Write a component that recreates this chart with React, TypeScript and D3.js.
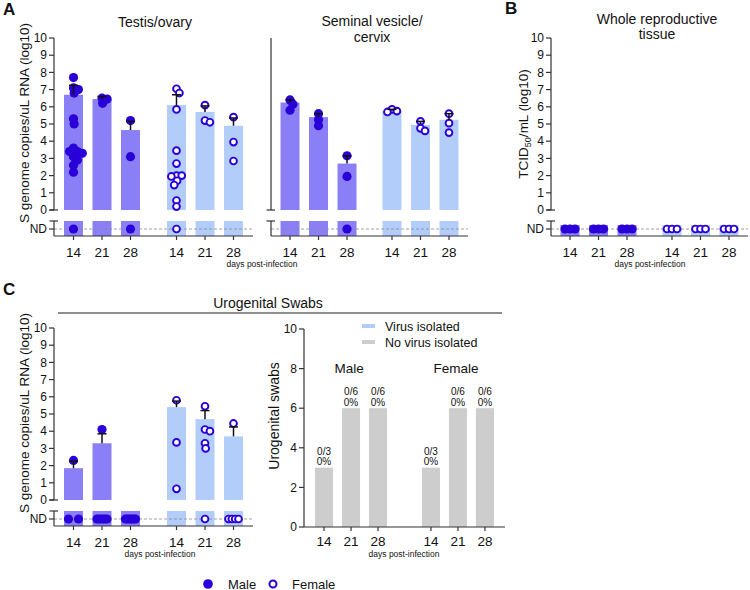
import * as d3 from "d3";

const FONT = "Arial, 'Liberation Sans', Helvetica, sans-serif";
const MALE_BAR = "#8b7ff8";
const FEMALE_BAR = "#b3cdfb";
const DOT = "#2a00d8";
const GREY_BAR = "#cdcdcd";
const AXIS = "#333";

const DAYS = ["14", "21", "28"];
const SEXES = ["Male", "Female"];

// group order everywhere: Male 14, 21, 28, Female 14, 21, 28
// A - Testis/ovary, log10 S genome copies/uL RNA
const testisMean = [6.7, 6.45, 4.65, 6.1, 5.7, 4.9];
const testisErr = [7.25, 6.6, 5.15, 6.7, 6.05, 5.35];
const testisPts = [
  [7.7, 7.1, 7.0, 6.8, 5.3, 5.0, 3.6, 3.4, 3.4, 3.3, 3.1, 2.9, 2.6, 2.2],
  [6.5, 6.45, 6.2],
  [5.2, 3.1],
  [7.05, 6.8, 5.85, 3.45, 2.7, 2.0, 2.0, 1.95, 1.7, 1.45, 0.55, 0.2],
  [6.1, 5.2, 5.1],
  [5.4, 3.95, 2.85],
];
const testisND = [1, 0, 1, 1, 0, 0];

// A - Seminal vesicle/cervix
const seminalMean = [6.25, 5.4, 2.7, 5.75, 4.95, 5.25];
const seminalErr = [6.4, 5.6, 3.15, 5.85, 5.15, 5.6];
const seminalPts = [
  [6.4, 6.15, 5.8],
  [5.6, 5.25, 4.9],
  [3.15, 1.95],
  [5.85, 5.75, 5.7],
  [5.15, 4.75, 4.6],
  [5.6, 5.05, 4.5],
];
const seminalND = [0, 0, 1, 0, 0, 0];

// B - Whole reproductive tissue, TCID50/mL (all not detected)
const tissueMean = [null, null, null, null, null, null];
const tissueErr = [null, null, null, null, null, null];
const tissuePts = [[], [], [], [], [], []];
const tissueND = [3, 3, 3, 3, 3, 3];

// C - Urogenital swabs RNA
const swabMean = [1.85, 3.3, null, 5.4, 4.7, 3.7];
const swabErr = [2.25, 3.85, null, 5.75, 5.2, 4.25];
const swabPts = [[2.3], [4.1], [], [5.8, 3.35, 0.65], [5.45, 4.1, 4.0, 3.3, 3.0], [4.45]];
const swabND = [2, 5, 6, 0, 1, 4];

// C - virus isolation from swabs
const swabTotal = [3, 6, 6, 3, 6, 6];
const swabIsolated = [0, 0, 0, 0, 0, 0];

type Group = {
  sex: string;
  day: string;
  mean: number | null;
  err: number | null;
  pts: number[];
  nd: number;
};

function makeGroups(mean: (number | null)[], err: (number | null)[], pts: number[][], nd: number[]): Group[] {
  return SEXES.flatMap((sex, si) =>
    DAYS.map((day, di) => {
      const i = si * 3 + di;
      return { sex, day, mean: mean[i], err: err[i], pts: pts[i], nd: nd[i] };
    })
  );
}

// simple beeswarm: offsets so dots don't sit on top of each other
function swarm(ys: number[], minDist: number): number[] {
  const order = ys.map((_, i) => i).sort((a, b) => ys[a] - ys[b]);
  const placed: { x: number; y: number }[] = [];
  const out = new Array(ys.length).fill(0);
  for (const i of order) {
    const y = ys[i];
    const cands = [0];
    const blocks: [number, number][] = [];
    placed.forEach((p) => {
      const dy = Math.abs(p.y - y);
      if (dy < minDist) {
        const dx = Math.sqrt(minDist * minDist - dy * dy);
        blocks.push([p.x - dx, p.x + dx]);
        cands.push(p.x - dx, p.x + dx);
      }
    });
    const ok = cands
      .filter((c) => blocks.every(([a, b]) => c <= a + 1e-6 || c >= b - 1e-6))
      .sort((a, b) => Math.abs(a) - Math.abs(b) || b - a);
    out[i] = ok[0];
    placed.push({ x: ok[0], y });
  }
  return out;
}

function ndOffsets(n: number): number[] {
  if (n <= 1) return n === 1 ? [0] : [];
  const step = Math.min(10.5, 10 / (n - 1));
  return d3.range(n).map((i) => (i - (n - 1) / 2) * step);
}

type PanelProps = {
  x0: number;
  w: number;
  y: d3.ScaleLinear<number, number>;
  ndTop: number;
  ndY: number;
  base: number;
  groups: Group[];
  labels: boolean;
  ndBarTop?: number;
};

const DotBarPanel = ({ x0, w, y, ndTop, ndY, base, groups, labels, ndBarTop }: PanelProps) => {
  const xSex = d3.scalePoint().domain(SEXES).range([x0, x0 + w]).padding(0.466);
  const xDay = d3.scalePoint().domain(DAYS).range([-28.5, 28.5]);
  const bw = 19;
  const [y0, y10] = y.range();
  const cx = (g: Group) => (xSex(g.sex) as number) + (xDay(g.day) as number);

  return (
    <g>
      {/* bars */}
      {groups.map((g, i) => (
        <g key={"b" + i} fill={g.sex === "Male" ? MALE_BAR : FEMALE_BAR}>
          {g.mean !== null && (
            <rect x={cx(g) - bw / 2} y={y(g.mean)} width={bw} height={y0 - y(g.mean)} />
          )}
          <rect x={cx(g) - bw / 2} y={ndBarTop ?? ndTop} width={bw} height={base - (ndBarTop ?? ndTop)} />
        </g>
      ))}
      {/* ND reference */}
      <line x1={x0} x2={x0 + w} y1={ndY} y2={ndY} stroke="#8a8a8a" strokeWidth={0.8} strokeDasharray="3,2" />
      {/* axes */}
      <g stroke={AXIS} strokeWidth={1.2} fill="none">
        <line x1={x0} x2={x0} y1={y10} y2={y0} />
        <line x1={x0 - 4.5} x2={x0 + 4} y1={y0} y2={y0} />
        <line x1={x0} x2={x0} y1={ndTop} y2={base} />
        <line x1={x0 - 4.5} x2={x0 + 4} y1={ndTop} y2={ndTop} />
        <line x1={x0} x2={x0 + w} y1={base} y2={base} />
        {labels &&
          y.ticks(10).map((t) => <line key={t} x1={x0 - 5} x2={x0} y1={y(t)} y2={y(t)} />)}
        {labels && <line x1={x0 - 5} x2={x0} y1={ndY} y2={ndY} />}
        {groups.map((g, i) => (
          <line key={i} x1={cx(g)} x2={cx(g)} y1={base} y2={base + 4} />
        ))}
      </g>
      {labels && (
        <g fontFamily={FONT} fontSize={12} fill="#111" textAnchor="end">
          {y.ticks(10).map((t) => (
            <text key={t} x={x0 - 7} y={y(t) + 4.2}>
              {t}
            </text>
          ))}
          <text x={x0 - 7} y={ndY + 4.2}>ND</text>
        </g>
      )}
      <g fontFamily={FONT} fontSize={13.5} fill="#111" textAnchor="middle">
        {groups.map((g, i) => (
          <text key={i} x={cx(g)} y={base + 21}>
            {g.day}
          </text>
        ))}
      </g>
      {/* dots */}
      {groups.map((g, i) => {
        const ys = g.pts.map((v) => y(v));
        const offs = swarm(ys, 5.2);
        const male = g.sex === "Male";
        const nds = ndOffsets(g.nd);
        const dot = (x: number, yy: number, k: string) =>
          male ? (
            <circle key={k} cx={x} cy={yy} r={4.6} fill={DOT} />
          ) : (
            <circle key={k} cx={x} cy={yy} r={3.4} fill="#fff" stroke={DOT} strokeWidth={1.9} />
          );
        return (
          <g key={"d" + i}>
            {ys.map((yy, j) => dot(cx(g) + offs[j], yy, "p" + j))}
            {nds.map((o, j) => dot(cx(g) + o, ndY, "n" + j))}
          </g>
        );
      })}
      {/* error bars (upper SEM) */}
      <g stroke="#111" strokeWidth={1.5}>
        {groups.map((g, i) =>
          g.mean !== null && g.err !== null ? (
            <g key={i}>
              <line x1={cx(g)} x2={cx(g)} y1={y(g.mean)} y2={y(g.err)} />
              <line x1={cx(g) - 4.5} x2={cx(g) + 4.5} y1={y(g.err)} y2={y(g.err)} />
            </g>
          ) : null
        )}
      </g>
    </g>
  );
};

const IsolationPanel = () => {
  const x0 = 304;
  const w = 201;
  const y = d3.scaleLinear().domain([0, 10]).range([527, 329]);
  const xSex = d3.scalePoint().domain(SEXES).range([x0, x0 + w]).padding(0.44);
  const xDay = d3.scalePoint().domain(DAYS).range([-27, 27]);
  const bw = 18;
  const groups = SEXES.flatMap((sex, si) =>
    DAYS.map((day, di) => ({ sex, day, total: swabTotal[si * 3 + di], pos: swabIsolated[si * 3 + di] }))
  );
  const cx = (g: { sex: string; day: string }) => (xSex(g.sex) as number) + (xDay(g.day) as number);
  return (
    <g fontFamily={FONT} fill="#111">
      {groups.map((g, i) => (
        <g key={i}>
          <rect x={cx(g) - bw / 2} y={y(g.total)} width={bw} height={y(g.pos) - y(g.total)} fill={GREY_BAR} />
          <rect x={cx(g) - bw / 2} y={y(g.pos)} width={bw} height={y(0) - y(g.pos)} fill={FEMALE_BAR} />
          <text x={cx(g)} y={y(g.total) - 13} fontSize={10} textAnchor="middle">
            {`${g.pos}/${g.total}`}
          </text>
          <text x={cx(g)} y={y(g.total) - 2.5} fontSize={10} textAnchor="middle">
            {`${Math.round((100 * g.pos) / g.total)}%`}
          </text>
        </g>
      ))}
      <g stroke={AXIS} strokeWidth={1.2}>
        <line x1={x0} x2={x0} y1={y(10)} y2={y(0)} />
        <line x1={x0} x2={x0 + w} y1={y(0)} y2={y(0)} />
        {y.ticks(5).map((t) => (
          <line key={t} x1={x0 - 5} x2={x0} y1={y(t)} y2={y(t)} />
        ))}
        {groups.map((g, i) => (
          <line key={i} x1={cx(g)} x2={cx(g)} y1={y(0)} y2={y(0) + 4} />
        ))}
      </g>
      <g fontSize={12} textAnchor="end">
        {y.ticks(5).map((t) => (
          <text key={t} x={x0 - 7} y={y(t) + 4.2}>
            {t}
          </text>
        ))}
      </g>
      <g fontSize={13.5} textAnchor="middle">
        {groups.map((g, i) => (
          <text key={i} x={cx(g)} y={y(0) + 19}>
            {g.day}
          </text>
        ))}
      </g>
      {SEXES.map((s) => (
        <text key={s} x={(xSex(s) as number) - 2} y={373} fontSize={13.5} textAnchor="middle">
          {s}
        </text>
      ))}
      <rect x={362} y={324} width={13} height={4} fill={FEMALE_BAR} />
      <rect x={362} y={340} width={13} height={4} fill={GREY_BAR} />
      <text x={385} y={330.5} fontSize={12.5}>Virus isolated</text>
      <text x={385} y={346.5} fontSize={12.5}>No virus isolated</text>
      <text transform={`translate(279,${y(5) - 12}) rotate(-90)`} fontSize={14} textAnchor="middle">
        Urogenital swabs
      </text>
    </g>
  );
};

const App = () => {
  const yA = d3.scaleLinear().domain([0, 10]).range([210, 38]);
  const yC = d3.scaleLinear().domain([0, 10]).range([500, 328]);

  return (
    <svg width={750} height={590} style={{ position: "absolute", left: 0, top: 0, background: "#fff" }}>
      <g fontFamily={FONT} fill="#111">
        <text x={3} y={15} fontSize={17} fontWeight="bold">A</text>
        <text x={505} y={14} fontSize={17} fontWeight="bold">B</text>
        <text x={3} y={295} fontSize={17} fontWeight="bold">C</text>

        <text x={155} y={27} fontSize={14} textAnchor="middle">Testis/ovary</text>
        <text x={372} y={26} fontSize={14} textAnchor="middle">Seminal vesicle/</text>
        <text x={372} y={42} fontSize={14} textAnchor="middle">cervix</text>
        <text x={657} y={24} fontSize={14} textAnchor="middle">Whole reproductive</text>
        <text x={657} y={39} fontSize={14} textAnchor="middle">tissue</text>
        <text x={268} y={308} fontSize={14} textAnchor="middle">Urogenital Swabs</text>
        <line x1={58} x2={502} y1={313} y2={313} stroke="#222" strokeWidth={1.1} />

        <text transform="translate(29,123) rotate(-90)" fontSize={13.5} textAnchor="middle">
          S genome copies/uL RNA (log10)
        </text>
        <text transform="translate(528,124) rotate(-90)" fontSize={13.5} textAnchor="middle">
          TCID<tspan fontSize={9} dy={3}>50</tspan>
          <tspan dy={-3}>/mL (log10)</tspan>
        </text>
        <text transform="translate(29,413) rotate(-90)" fontSize={13.5} textAnchor="middle">
          S genome copies/uL RNA (log10)
        </text>

        <g fontSize={8.5} textAnchor="middle">
          <text x={262} y={267}>days post-infection</text>
          <text x={650} y={267}>days post-infection</text>
          <text x={160} y={557}>days post-infection</text>
          <text x={404} y={557}>days post-infection</text>
        </g>
      </g>

      <DotBarPanel x0={54} w={199} y={yA} ndTop={221} ndY={229} base={236} labels
        groups={makeGroups(testisMean, testisErr, testisPts, testisND)} />
      <DotBarPanel x0={271} w={197} y={yA} ndTop={221} ndY={229} base={236} labels={false}
        groups={makeGroups(seminalMean, seminalErr, seminalPts, seminalND)} />
      <DotBarPanel x0={551} w={197} y={yA} ndTop={221} ndY={229} base={236} labels ndBarTop={225}
        groups={makeGroups(tissueMean, tissueErr, tissuePts, tissueND)} />
      <DotBarPanel x0={54} w={199} y={yC} ndTop={511} ndY={519} base={526} labels
        groups={makeGroups(swabMean, swabErr, swabPts, swabND)} />
      <IsolationPanel />

      <g fontFamily={FONT} fontSize={13} fill="#111">
        <circle cx={208} cy={584} r={4.8} fill={DOT} />
        <text x={228} y={588.5}>Male</text>
        <circle cx={273} cy={584} r={3.5} fill="#fff" stroke={DOT} strokeWidth={2} />
        <text x={292} y={588.5}>Female</text>
      </g>
    </svg>
  );
};

export default App;
